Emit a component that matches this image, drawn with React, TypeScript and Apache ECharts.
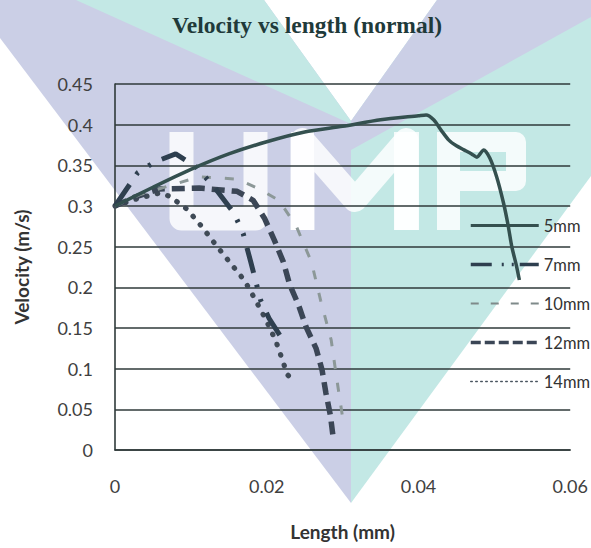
import React, { useEffect, useRef } from "react";
import * as echarts from "echarts";

// ---- data (length in mm, velocity in m/s) ----
const seriesNames = ["5mm", "7mm", "10mm", "12mm", "14mm"];
const xTicks = [0, 0.02, 0.04, 0.06];
const yTicks = [0, 0.05, 0.1, 0.15, 0.2, 0.25, 0.3, 0.35, 0.4, 0.45];

const len5 = [0, 0.005, 0.01, 0.015, 0.02, 0.025, 0.03, 0.035, 0.04, 0.041, 0.042, 0.043, 0.044, 0.045, 0.046, 0.047, 0.0477, 0.0486, 0.0494, 0.0503, 0.0512, 0.0518, 0.0523, 0.0529, 0.0533];
const vel5 = [0.3, 0.323, 0.345, 0.364, 0.379, 0.391, 0.398, 0.406, 0.411, 0.412, 0.406, 0.393, 0.381, 0.374, 0.369, 0.364, 0.36, 0.369, 0.359, 0.336, 0.304, 0.277, 0.25, 0.227, 0.209];

const len7 = [0, 0.003, 0.0052, 0.008, 0.0107, 0.0131, 0.0157, 0.0169, 0.0179, 0.0192, 0.0203, 0.0218];
const vel7 = [0.3, 0.341, 0.354, 0.364, 0.348, 0.323, 0.291, 0.266, 0.231, 0.184, 0.162, 0.14];

const len10 = [0, 0.0033, 0.0072, 0.0111, 0.0161, 0.019, 0.0216, 0.0239, 0.0259, 0.0271, 0.0285, 0.0292, 0.0301];
const vel10 = [0.3, 0.314, 0.325, 0.336, 0.333, 0.321, 0.307, 0.275, 0.231, 0.184, 0.135, 0.089, 0.034];

const len12 = [0, 0.0026, 0.0059, 0.0111, 0.0161, 0.0182, 0.0197, 0.021, 0.0222, 0.023, 0.0242, 0.0252, 0.0265, 0.0273, 0.0278, 0.0284, 0.0288];
const vel12 = [0.3, 0.311, 0.321, 0.322, 0.318, 0.307, 0.285, 0.258, 0.231, 0.204, 0.178, 0.151, 0.125, 0.098, 0.07, 0.042, 0.012];

const len14 = [0, 0.0033, 0.0059, 0.0072, 0.0095, 0.0115, 0.0133, 0.0152, 0.0171, 0.0186, 0.0199, 0.0212, 0.0222, 0.0227, 0.0238];
const vel14 = [0.3, 0.31, 0.316, 0.312, 0.296, 0.274, 0.252, 0.23, 0.208, 0.183, 0.16, 0.134, 0.107, 0.093, 0.082];

const zip = (xs: number[], ys: number[]) => xs.map((x, i) => [x, ys[i]]);

const fmt = (v: number) => String(Number(v.toFixed(2)));

const PURPLE = "#cbcfe6";
const TEAL = "#c3e8e5";

export default function App() {
  const ref = useRef<HTMLDivElement>(null);

  useEffect(() => {
    if (!ref.current) return;
    const chart = echarts.init(ref.current, undefined, { renderer: "svg" });

    const gridColor = "#2f3a3a";
    const font = "Lato, 'Open Sans', sans-serif";

    const seriesStyles: any[] = [
      { color: "#34504f", width: 3.5, type: "solid" },
      { color: "#2e3f4f", width: 5, type: [26, 12, 3, 12, 3, 12] },
      { color: "#8c9898", width: 3, type: [9, 14] },
      { color: "#3b4656", width: 5.5, type: [13, 7] },
      { color: "#3f4a56", width: 5.2, type: [0.5, 10.5], cap: "round" },
    ];
    const legendStyles: any[] = [
      { color: "#34504f", width: 3, type: "solid" },
      { color: "#2e3f4f", width: 3.5, type: [21, 10, 2, 8, 2, 6] },
      { color: "#7f8a8a", width: 2, type: [8, 12] },
      { color: "#3b4656", width: 3.5, type: [10, 4] },
      { color: "#4a5560", width: 1.5, type: [1.5, 3.5] },
    ];
    const datasets = [
      zip(len5, vel5),
      zip(len7, vel7),
      zip(len10, vel10),
      zip(len12, vel12),
      zip(len14, vel14),
    ];

    const wm = (points: number[][], fill: string, z: number) => ({
      type: "polygon",
      z,
      silent: true,
      shape: { points },
      style: { fill },
    });
    const letterStyle = { stroke: "#ffffff", opacity: 0.82, fill: "none" };

    chart.setOption({
      animation: false,
      backgroundColor: "#ffffff",
      title: {
        text: "Velocity vs length (normal)",
        left: 302,
        top: 8,
        textAlign: "center",
        textStyle: {
          fontFamily: "'Liberation Serif', 'Times New Roman', serif",
          fontWeight: "bold",
          fontSize: 23.5,
          color: "#1f3a3a",
        },
      },
      graphic: [
        // left arm (purple base, teal overlay at the top)
        wm([[0, 0], [264, 0], [351, 121], [351, 503], [0, 38]], PURPLE, -100),
        wm([[76, 0], [264, 0], [351, 121], [351, 124]], TEAL, -99),
        // right arm (teal base, purple overlay at the top)
        wm([[351, 121], [437, 0], [591, 0], [591, 176], [351, 503]], TEAL, -100),
        wm([[351, 121], [437, 0], [591, 0], [591, 17], [351, 150]], PURPLE, -99),
        // "U"
        {
          type: "polyline", z: -90, silent: true,
          shape: { points: [[181.5, 132], [181.5, 218.5], [255.5, 218.5], [255.5, 132]] },
          style: { ...letterStyle, lineWidth: 24, lineJoin: "round" },
        },
        // "M"
        {
          type: "polyline", z: -90, silent: true,
          shape: { points: [[302.5, 230], [302.5, 140], [355, 200], [406.5, 140], [406.5, 230]] },
          style: { ...letterStyle, lineWidth: 24, lineJoin: "round" },
        },
        {
          type: "rect", z: -90, silent: true,
          shape: { x: 291, y: 132, width: 23, height: 98 },
          style: { fill: "#ffffff", opacity: 0.82 },
        },
        {
          type: "rect", z: -90, silent: true,
          shape: { x: 394, y: 132, width: 25, height: 98 },
          style: { fill: "#ffffff", opacity: 0.82 },
        },
        // "P"
        {
          type: "rect", z: -90, silent: true,
          shape: { x: 437, y: 132, width: 23, height: 98 },
          style: { fill: "#ffffff", opacity: 0.82 },
        },
        {
          type: "polyline", z: -90, silent: true,
          shape: { points: [[460, 142], [516, 142], [516, 181], [460, 181]] },
          style: { ...letterStyle, lineWidth: 20, lineJoin: "round" },
        },
      ],
      legend: {
        orient: "vertical",
        left: 464,
        top: 212,
        itemWidth: 68,
        itemHeight: 14,
        itemGap: 22,
        itemStyle: { opacity: 0 },
        textStyle: { fontSize: 16.5, fontFamily: font, color: "#333333" },
        data: seriesNames.map((n, i) => ({ name: n, lineStyle: legendStyles[i] })),
      },
      grid: { left: 115, right: 17, top: 84, bottom: 98, containLabel: false },
      xAxis: {
        type: "value",
        min: xTicks[0],
        max: xTicks[xTicks.length - 1],
        interval: 0.02,
        name: "Length (mm)",
        nameLocation: "middle",
        nameGap: 72,
        nameTextStyle: { fontFamily: font, fontWeight: "bold", fontSize: 19, color: "#333333" },
        axisLine: { show: true, lineStyle: { color: gridColor, width: 1.6 } },
        axisTick: { show: false },
        splitLine: { show: false },
        axisLabel: { margin: 27, fontSize: 18, fontFamily: font, color: "#404040", formatter: (v: number) => fmt(v) },
      },
      yAxis: {
        type: "value",
        min: yTicks[0],
        max: yTicks[yTicks.length - 1],
        interval: 0.05,
        name: "Velocity (m/s)",
        nameLocation: "middle",
        nameGap: 84,
        nameTextStyle: { fontFamily: font, fontWeight: "bold", fontSize: 19, color: "#333333" },
        axisLine: { show: true, lineStyle: { color: gridColor, width: 1.6 } },
        axisTick: { show: false },
        splitLine: { show: true, lineStyle: { color: gridColor, width: 1.6 } },
        axisLabel: { margin: 22, fontSize: 18, fontFamily: font, color: "#404040", formatter: (v: number) => fmt(v) },
      },
      series: seriesNames.map((n, i) => ({
        name: n,
        type: "line",
        data: datasets[i],
        symbol: "none",
        smooth: i === 0 ? 0.25 : false,
        lineStyle: seriesStyles[i],
        itemStyle: { color: seriesStyles[i].color },
        z: 10 - i,
      })),
    });

    return () => chart.dispose();
  }, []);

  return (
    <div
      ref={ref}
      style={{ position: "fixed", left: 0, top: 0, width: 591, height: 548 }}
    />
  );
}
